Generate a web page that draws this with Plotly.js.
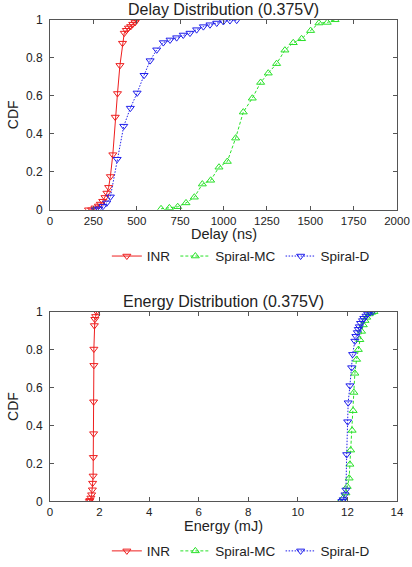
<!DOCTYPE html>
<html>
<head>
<meta charset="utf-8">
<script src="https://cdn.plot.ly/plotly-3.0.1.min.js"></script>
<style>html,body{margin:0;padding:0;background:#fff;}#chart{width:412px;height:567px;}</style>
</head>
<body>
<div id="chart"></div>
<script>
// Delay distribution (ns) vs CDF
const delayINR_x = [222,240,259,279,290,304,317,328,338,348,362,376,389,403,418,428,440,452,465,477,490,500];
const delayINR_y = [0,0,0.01,0.02,0.03,0.045,0.065,0.088,0.118,0.175,0.29,0.488,0.612,0.76,0.877,0.93,0.945,0.957,0.965,0.977,0.986,1.0];
const delayMC_x = [640,688,736,784,832,878,926,974,1022,1070,1114,1166,1214,1258,1306,1354,1402,1450,1502,1550,1598,1643];
const delayMC_y = [0.005,0.01,0.016,0.036,0.066,0.135,0.155,0.224,0.254,0.377,0.514,0.587,0.67,0.719,0.769,0.84,0.879,0.9,0.943,0.983,0.986,1.0];
const delayD_x = [262,281,305,327,348,387,425,463,502,542,577,615,653,692,730,768,807,845,884,922,961,999,1037,1076];
const delayD_y = [0,0.005,0.018,0.036,0.068,0.266,0.44,0.535,0.615,0.708,0.785,0.842,0.88,0.894,0.906,0.92,0.93,0.948,0.964,0.974,0.983,0.991,0.996,0.998];

// Energy distribution (mJ) vs CDF
const energyINR_x = [1.59,1.61,1.65,1.68,1.71,1.72,1.74,1.75,1.76,1.76,1.77,1.77,1.79,1.81,1.84,1.88];
const energyINR_y = [0,0.005,0.018,0.035,0.061,0.096,0.134,0.232,0.357,0.525,0.717,0.803,0.927,0.96,0.975,1.0];
const energyMC_x = [11.7,11.83,11.94,11.99,12.07,12.1,12.13,12.19,12.23,12.26,12.3,12.37,12.44,12.5,12.57,12.64,12.71,12.78,12.88,12.98,13.07];
const energyMC_y = [0,0.018,0.044,0.078,0.122,0.195,0.27,0.374,0.478,0.574,0.675,0.748,0.8,0.852,0.896,0.93,0.953,0.97,0.988,0.996,1.0];
const energyD_x = [11.78,11.83,11.9,11.94,11.97,12.01,12.03,12.1,12.17,12.21,12.3,12.34,12.4,12.44,12.48,12.53,12.61,12.66,12.75,12.82,12.91,13.02];
const energyD_y = [0,0.009,0.035,0.06,0.247,0.42,0.52,0.61,0.705,0.775,0.845,0.87,0.89,0.907,0.921,0.939,0.953,0.965,0.977,0.988,0.995,1.0];

const seriesNames = ['INR','Spiral-MC','Spiral-D'];
const delayTicks = [0,250,500,750,1000,1250,1500,1750,2000];
const energyTicks = [0,2,4,6,8,10,12,14];
const cdfTicks = [0,0.2,0.4,0.6,0.8,1];
const titles = ['Delay Distribution (0.375V)','Energy Distribution (0.375V)'];
const xTitles = ['Delay (ns)','Energy (mJ)'];

const styles = [
  {color:'rgb(238,30,30)', symbol:'triangle-down-open', dash:'solid'},
  {color:'rgb(40,225,40)', symbol:'triangle-up-open', dash:'3px,2px'},
  {color:'rgb(30,30,235)', symbol:'triangle-down-open', dash:'1.5px,1.5px'}
];

function mk(x, y, i, xa, ya, leg) {
  const s = styles[i];
  return {
    x: x, y: y, type:'scatter', mode:'lines+markers', name: seriesNames[i],
    xaxis: xa, yaxis: ya, legend: leg,
    line: {color: s.color, width: 1, dash: s.dash},
    marker: {symbol: s.symbol, size: 7, color: s.color, line:{width:1, color:s.color}}
  };
}

const data = [
  mk(delayINR_x, delayINR_y, 0, 'x', 'y', 'legend'),
  mk(delayMC_x, delayMC_y, 1, 'x', 'y', 'legend'),
  mk(delayD_x, delayD_y, 2, 'x', 'y', 'legend'),
  mk(energyINR_x, energyINR_y, 0, 'x2', 'y2', 'legend2'),
  mk(energyMC_x, energyMC_y, 1, 'x2', 'y2', 'legend2'),
  mk(energyD_x, energyD_y, 2, 'x2', 'y2', 'legend2')
];

const FONT = 'Liberation Sans, Arial, Helvetica, sans-serif';
const frame = {
  showline:true, mirror:'ticks', linecolor:'#555', linewidth:1,
  ticks:'inside', ticklen:4, tickcolor:'#555', tickwidth:1,
  showgrid:false, zeroline:false, automargin:false,
  tickfont:{family:FONT, size:12, color:'#222'}
};
const xfont = {family:FONT, size:11.5, color:'#222'};
const H = 567;
function py(p){ return 1 - p/H; }

const yt = () => ({text:'CDF', font:{family:FONT,size:14,color:'#222'}, standoff:4});
function ann(text, yPix, size) {
  return {text:text, xref:'paper', yref:'paper', x:0.5, xanchor:'center', y:py(yPix), yanchor:'middle',
          showarrow:false, borderpad:0, font:{family:FONT,size:size,color:'#222'}};
}

const layout = {
  width:412, height:567,
  margin:{l:50, r:15, t:0, b:0},
  paper_bgcolor:'#fff', plot_bgcolor:'#fff',
  font:{family:FONT, color:'#222'},
  showlegend:true,
  xaxis: Object.assign({}, frame, {domain:[0,1], anchor:'y', range:[0,2000], tickvals:delayTicks, tickfont:xfont}),
  yaxis: Object.assign({}, frame, {domain:[py(212), py(20)], anchor:'x', range:[0,1], tickvals:cdfTicks, ticklabelstandoff:4, title:yt()}),
  xaxis2: Object.assign({}, frame, {domain:[0,1], anchor:'y2', range:[0,14], tickvals:energyTicks, tickfont:xfont}),
  yaxis2: Object.assign({}, frame, {domain:[py(506.7), py(315)], anchor:'x2', range:[0,1], tickvals:cdfTicks, ticklabelstandoff:4, title:yt()}),
  legend: {orientation:'h', x:0.55, xanchor:'center', y:py(259), yanchor:'middle',
    font:{family:FONT,size:13.5,color:'#222'}, bgcolor:'rgba(0,0,0,0)', itemwidth:30, tracegroupgap:0},
  legend2: {orientation:'h', x:0.55, xanchor:'center', y:py(557), yanchor:'middle',
    font:{family:FONT,size:13.5,color:'#222'}, bgcolor:'rgba(0,0,0,0)', itemwidth:30, tracegroupgap:0},
  annotations: [
    ann(titles[0], 10, 16),
    ann(titles[1], 305, 16),
    ann(xTitles[0], 236, 14.5),
    ann(xTitles[1], 532, 14.5)
  ]
};

Plotly.newPlot('chart', data, layout, {displayModeBar:false, staticPlot:true});
</script>
</body>
</html>
